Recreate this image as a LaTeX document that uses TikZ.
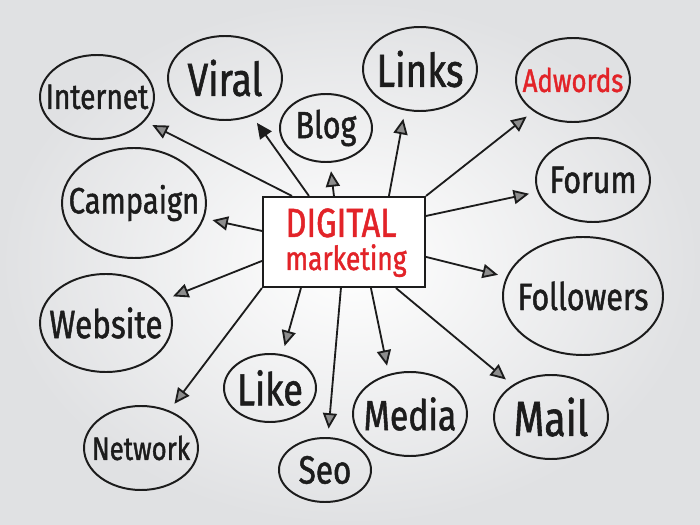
\documentclass[tikz,border=0pt]{standalone}
\usepackage{fontspec}
\usepackage{xcolor}
\definecolor{mkred}{RGB}{226,35,40}
\definecolor{mkink}{RGB}{28,28,28}
\definecolor{mkpaper}{RGB}{224,225,227}
\newfontfamily\handfont{Fira Sans}[FakeStretch=0.8, FakeBold=1.2]
\newcommand{\handsz}[1]{\handfont\fontsize{#1}{#1}\selectfont}
\newcommand{\word}[1]{\makebox[0pt]{#1}}
\usepackage{tikz}
\usetikzlibrary{positioning, arrows.meta, shapes.geometric}

\begin{document}
\begin{tikzpicture}[
    % GLOBAL CFG
    x=0.025cm, y=-0.025cm,
    >={Triangle[length=11pt,width=10pt,fill=mkink!50]},
    % Styles
    bubble/.style 2 args={% For the topic ellipses
        ellipse,
        draw=mkink,
        line width=1.4pt,
        minimum width=#1*0.025cm,
        minimum height=#2*0.025cm,
        inner sep=0pt,
        text=mkink,
        },
    hub/.style={% For the central box
        rectangle,
        draw=mkink,
        fill=white,
        line width=1.5pt,
        minimum width=162*0.025cm,
        minimum height=90*0.025cm,
        },
    headline/.style={% red text in the box
        text=mkred,
        anchor=base,
        inner sep=0pt,
        },
    link/.style={% connectors
        ->,
        draw=mkink,
        line width=1.3pt,
        shorten >=6pt,
        },
    ]

%Start drawing the thing...
    % Paper
    \shade[inner color=white, outer color=mkpaper] (0,0) rectangle (700,525);

    % Draw the central box
    \node [hub] (box) at (344,242) {};
    \node [headline, font=\handsz{29}] (digital) at (341,237) {DIGITAL};
    \node [headline, font=\handsz{23.5}] (mkt) at (346,270) {marketing};

    % Draw the topics, top row
    \node [bubble={114}{84}, font=\handsz{25}] (internet) at (97,97) {\word{Internet}};
    \node [bubble={114}{84}, font=\handsz{33}] (viral) at (225,78) {\word{Viral}};
    \node [bubble={92}{68}, font=\handsz{27}] (blog) at (326,128) {\word{Blog}};
    \node [bubble={114}{84}, font=\handsz{33}] (links) at (420,69) {\word{Links}};
    \node [bubble={114}{84}, font=\handsz{23}, text=mkred] (adwords) at (573,80) {\word{Adwords}};

    % Sides
    \node [bubble={144}{110}, font=\handsz{26}] (campaign) at (134,203) {\word{Campaign}};
    \node [bubble={132}{98}, font=\handsz{28}] (website) at (106,323) {\word{Website}};
    \node [bubble={114}{84}, font=\handsz{27}] (forum) at (593,180) {\word{Forum}};
    \node [bubble={160}{118}, font=\handsz{27}] (followers) at (583,296) {\word{Followers}};

    % Bottom row
    \node [bubble={114}{84}, font=\handsz{23}] (network) at (141,448) {\word{Network}};
    \node [bubble={92}{68}, font=\handsz{32}] (like) at (270,388) {\word{Like}};
    \node [bubble={92}{64}, font=\handsz{28}] (seo) at (325,470) {\word{Seo}};
    \node [bubble={114}{84}, font=\handsz{30}] (media) at (410,414) {\word{Media}};
    \node [bubble={114}{84}, font=\handsz{35}] (mail) at (551,417) {\word{Mail}};

% Start connecting all.
    % Upwards
    \draw [link] (box.north west) ++(30,0) -- (internet);
    \draw [link, >={Triangle[length=11pt,width=10pt,fill=mkink]}] (box.north west) ++(47,0) -- (viral);
    \draw [link] (box.north west) ++(72,0) -- (blog);
    \draw [link] (box.north west) ++(127,0) -- (links.250);
    \draw [link] (box.north east) -- (adwords);

    % Sideways
    \draw [link] (box.north west) ++(0,35) -- (campaign);
    \draw [link] (box.north west) ++(0,65) -- (website);
    \draw [link] (box.north east) ++(0,20) -- (forum);
    \draw [link] (box.north east) ++(0,61) -- (followers);

    % Downwards
    \draw [link] (box.south west) -- (network);
    \draw [link] (box.south west) ++(39,0) -- (like.70);
    \draw [link] (box.south west) ++(79,0) -- (seo);
    \draw [link] (box.south west) ++(109,0) -- (media.118);
    \draw [link] (box.south west) ++(134,0) -- (mail);

\end{tikzpicture}
\end{document}
